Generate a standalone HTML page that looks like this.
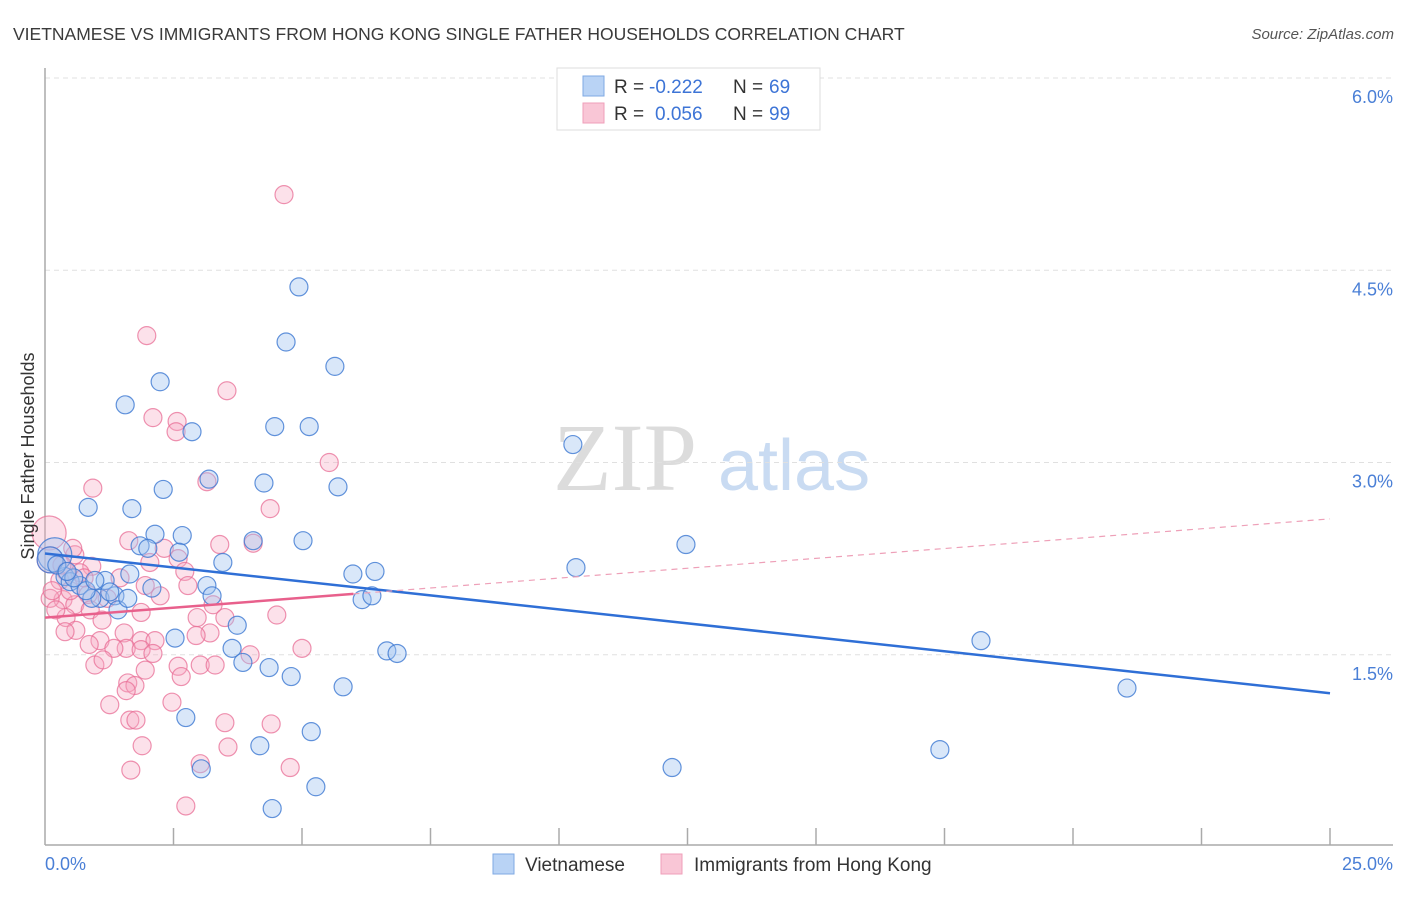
<!DOCTYPE html>
<html><head><meta charset="utf-8"><style>
body{margin:0;background:#fff;font-family:"Liberation Sans",sans-serif}
svg text{font-family:"Liberation Sans",sans-serif}
</style></head><body>
<svg id="chart" width="1406" height="892" xmlns="http://www.w3.org/2000/svg">
<text x="13" y="40" font-size="17.5" fill="#3a3a3a">VIETNAMESE VS IMMIGRANTS FROM HONG KONG SINGLE FATHER HOUSEHOLDS CORRELATION CHART</text>
<text x="1394" y="39" font-size="15" fill="#555" text-anchor="end" font-style="italic">Source: ZipAtlas.com</text>
<g>
<text x="553" y="490" font-size="96" fill="#dcdcdc" font-family="Liberation Serif" style="font-family:'Liberation Serif',serif">ZIP</text>
<text x="718" y="490" font-size="72" fill="#c9dbf2">atlas</text>
</g>
<g id="grid"></g>
<g id="axes"></g>
<g id="pts"></g>
<g id="lines"></g>
<text transform="translate(34,456) rotate(-90)" font-size="18" fill="#333" text-anchor="middle">Single Father Households</text>
<g>
<rect x="557" y="68" width="263" height="62" fill="#fff" stroke="#ddd"/>
<rect x="583" y="76" width="21" height="20" fill="#b9d3f5" stroke="#7fa9e3"/>
<rect x="583" y="103" width="21" height="20" fill="#f9c6d6" stroke="#ef9fb9"/>
<text x="614" y="93" font-size="19" fill="#333">R = </text><text x="649" y="93" font-size="19" fill="#3d74d6">-0.222</text>
<text x="733" y="93" font-size="19" fill="#333">N = </text><text x="769" y="93" font-size="19" fill="#3d74d6">69</text>
<text x="614" y="120" font-size="19" fill="#333">R = </text><text x="655" y="120" font-size="19" fill="#3d74d6">0.056</text>
<text x="733" y="120" font-size="19" fill="#333">N = </text><text x="769" y="120" font-size="19" fill="#3d74d6">99</text>
</g>
<g>
<rect x="493" y="854" width="21" height="20" fill="#b9d3f5" stroke="#7fa9e3"/>
<text x="525" y="871" font-size="19" fill="#333">Vietnamese</text>
<rect x="661" y="854" width="21" height="20" fill="#f9c6d6" stroke="#ef9fb9"/>
<text x="694" y="871" font-size="19" fill="#333">Immigrants from Hong Kong</text>
</g>
</svg>
<script>
const yTicks=[1.5,3.0,4.5,6.0];
const yTickLabels=["1.5%","3.0%","4.5%","6.0%"];
const xTickLabels=["0.0%","25.0%"];
const blueX=[4.94,4.69,5.64,2.24,1.56,2.86,4.47,5.14,10.27,3.19,4.26,5.70,2.30,0.84,1.69,2.14,2.67,5.02,12.47,1.85,2.00,2.61,4.05,3.46,10.33,1.65,5.99,6.42,3.15,2.08,3.25,6.17,6.36,1.17,0.39,0.49,0.68,1.07,1.36,1.42,3.74,2.53,18.21,3.64,6.65,6.85,3.85,4.36,4.79,5.80,21.05,2.74,5.18,4.18,17.41,12.20,3.04,5.27,4.42,0.19,0.10,0.23,0.91,1.61,0.80,0.56,1.26,0.97,0.43];
const blueY=[4.37,3.94,3.75,3.63,3.45,3.24,3.28,3.28,3.14,2.87,2.84,2.81,2.79,2.65,2.64,2.44,2.43,2.39,2.36,2.35,2.33,2.30,2.39,2.22,2.18,2.13,2.13,2.15,2.04,2.02,1.96,1.93,1.96,2.08,2.11,2.07,2.04,1.94,1.96,1.85,1.73,1.63,1.61,1.55,1.53,1.51,1.44,1.40,1.33,1.25,1.24,1.01,0.90,0.79,0.76,0.62,0.61,0.47,0.30,2.28,2.24,2.20,1.94,1.94,2.00,2.10,1.99,2.08,2.15];
const pinkX=[4.65,1.98,3.54,2.10,2.57,2.55,5.53,3.15,0.93,4.38,1.63,3.40,4.05,2.32,0.58,2.59,0.91,2.04,2.72,0.08,0.10,0.41,0.68,1.46,1.95,2.78,2.24,0.84,0.35,0.10,1.21,3.27,1.87,4.51,0.58,0.88,2.96,3.50,0.41,1.11,1.07,1.54,1.87,2.14,1.58,0.60,3.21,2.94,0.39,0.86,1.34,5.00,1.87,2.10,2.59,3.02,3.99,3.31,0.97,1.13,1.95,2.65,1.61,1.75,1.58,2.47,1.26,1.65,1.77,3.50,4.40,1.89,3.56,3.02,4.77,1.67,2.74,0.29,0.49,0.21,0.14,0.76,0.33,0.54];
const pinkY=[5.09,3.99,3.56,3.35,3.32,3.24,3.00,2.85,2.80,2.64,2.39,2.36,2.37,2.33,2.28,2.25,2.19,2.22,2.15,2.45,2.24,2.15,2.14,2.10,2.04,2.04,1.96,1.97,1.93,1.94,1.94,1.89,1.83,1.81,1.89,1.85,1.79,1.79,1.79,1.77,1.61,1.67,1.61,1.61,1.55,1.69,1.67,1.65,1.68,1.58,1.55,1.55,1.54,1.51,1.41,1.42,1.50,1.42,1.42,1.46,1.38,1.33,1.28,1.26,1.22,1.13,1.11,0.99,0.99,0.97,0.96,0.79,0.78,0.65,0.62,0.60,0.32,2.08,2.00,1.85,2.00,2.10,2.20,2.33];
const blueBig=[59,60]; const pinkBig=[19,20];
const blueTrend=[2.29,1.20]; const pinkTrend=[1.79,2.56];
const NS="http://www.w3.org/2000/svg";
const X0=45,X1=1330,Y0=847,YTOP=78;
const sx=v=>X0+v/25*(X1-X0);
const sy=v=>Y0-v/6*(Y0-YTOP);
function mk(tag,attrs,parent){const e=document.createElementNS(NS,tag);for(const k in attrs)e.setAttribute(k,attrs[k]);parent.appendChild(e);return e;}
const grid=document.getElementById('grid'),axes=document.getElementById('axes'),pts=document.getElementById('pts'),lines=document.getElementById('lines');
yTicks.forEach((t,i)=>{
 const l=mk('line',{x1:X0,x2:1393,y1:sy(t),y2:sy(t),stroke:'#e0e0e0','stroke-dasharray':'5,4'},grid);
 
 
 const tx=mk('text',{x:1393,y:sy(t)+25,'font-size':18,fill:'#4a7fd6','text-anchor':'end'},grid);
 tx.textContent=yTickLabels[i];
 
 
});
const ya=mk('line',{x1:X0,x2:X0,y1:68,y2:845,stroke:'#aaa','stroke-width':1.5},axes);


const xa=mk('line',{x1:X0,x2:1393,y1:845,y2:845,stroke:'#aaa','stroke-width':1.5},axes);


for(let i=1;i<=10;i++){const t=mk('line',{x1:sx(i*2.5),x2:sx(i*2.5),y1:828,y2:845,stroke:'#aaa','stroke-width':1.5},axes);
 
 }
[[X0,'start'],[1393,'end']].forEach((p,i)=>{const t=mk('text',{x:p[0],y:870,'font-size':18,fill:'#4a7fd6','text-anchor':p[1]},axes);t.textContent=xTickLabels[i];
 
 });
function series(xs,ys,big,fill,stroke,name){xs.forEach((x,i)=>{
 const r=big.includes(i)?(big.indexOf(i)===0?17:13):9;
 const c=mk('circle',{cx:sx(x),cy:sy(ys[i]),r:r,fill:fill,stroke:stroke,'stroke-width':1.2},pts);
 
 
});}
series(pinkX,pinkY,pinkBig,'rgba(246,170,196,0.35)','rgba(232,110,150,0.75)','point-hong-kong');
series(blueX,blueY,blueBig,'rgba(160,196,240,0.4)','rgba(60,120,210,0.8)','point-vietnamese');
const bl=mk('line',{x1:sx(0),y1:sy(blueTrend[0]),x2:sx(25),y2:sy(blueTrend[1]),stroke:'#2f6fd6','stroke-width':2.5},lines);


const pm=pinkTrend[0]+(pinkTrend[1]-pinkTrend[0])*6/25;
const pl=mk('line',{x1:sx(0),y1:sy(pinkTrend[0]),x2:sx(6),y2:sy(pm),stroke:'#e8608c','stroke-width':2.5},lines);


const pd=mk('line',{x1:sx(6),y1:sy(pm),x2:sx(25),y2:sy(pinkTrend[1]),stroke:'#eea0b8','stroke-width':1.2,'stroke-dasharray':'6,5'},lines);


</script>
</body></html>
